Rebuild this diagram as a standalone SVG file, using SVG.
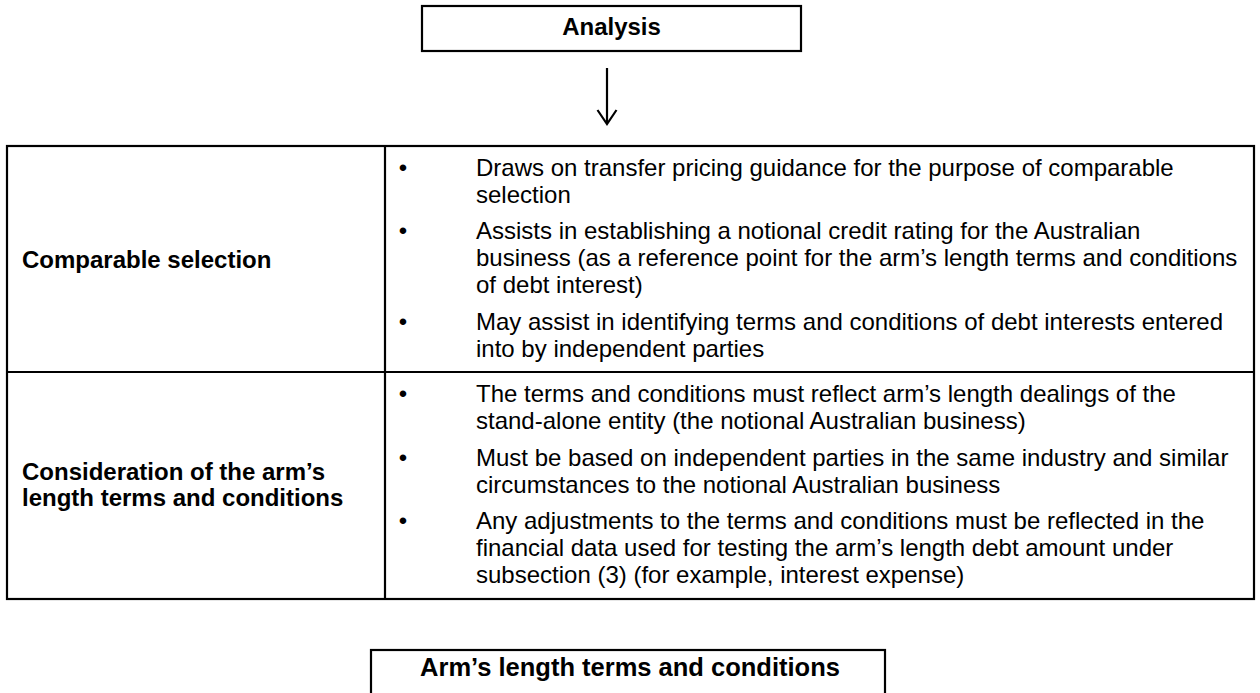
<svg xmlns="http://www.w3.org/2000/svg" width="1260" height="693" viewBox="0 0 1260 693">
<style>
  .box{fill:#fff;stroke:#000;stroke-width:2.2}
  .ln{stroke:#000;stroke-width:2.2;fill:none}
  .b{font-family:"Liberation Sans",Arial,sans-serif;font-weight:bold;font-size:24px;fill:#000}
  .t{font-family:"Liberation Sans",Arial,sans-serif;font-size:24px;fill:#000}
  .bul{font-family:"Liberation Sans",Arial,sans-serif;font-size:24px;fill:#000;text-anchor:middle}
</style>
<rect width="1260" height="693" fill="#fff"/>
<g id="analysis">
  <rect class="box" x="422" y="6" width="379" height="45"/>
  <text class="b" x="611.5" y="34.5" text-anchor="middle">Analysis</text>
</g>
<g id="connectors">
  <line class="ln" x1="607" y1="68" x2="607" y2="123"/>
  <polyline class="ln" points="597.5,110 607,124 616.5,110"/>
</g>
<g id="table">
  <rect class="box" x="7" y="146" width="1247" height="453"/>
  <line class="ln" x1="385" y1="146" x2="385" y2="599"/>
  <line class="ln" x1="7" y1="372" x2="1254" y2="372"/>
</g>
<g id="row1">
  <text class="b" x="22" y="268">Comparable selection</text>
  <text class="bul" x="403" y="175.5">•</text>
  <text class="t" x="476" y="175.5">Draws on transfer pricing guidance for the purpose of comparable</text>
  <text class="t" x="476" y="202.5">selection</text>
  <text class="bul" x="403" y="239">•</text>
  <text class="t" x="476" y="239">Assists in establishing a notional credit rating for the Australian</text>
  <text class="t" x="476" y="266">business (as a reference point for the arm’s length terms and conditions</text>
  <text class="t" x="476" y="293">of debt interest)</text>
  <text class="bul" x="403" y="330">•</text>
  <text class="t" x="476" y="330">May assist in identifying terms and conditions of debt interests entered</text>
  <text class="t" x="476" y="357">into by independent parties</text>
</g>
<g id="row2">
  <text class="b" x="22" y="480">Consideration of the arm’s</text>
  <text class="b" x="22" y="506">length terms and conditions</text>
  <text class="bul" x="403" y="402">•</text>
  <text class="t" x="476" y="402">The terms and conditions must reflect arm’s length dealings of the</text>
  <text class="t" x="476" y="429">stand-alone entity (the notional Australian business)</text>
  <text class="bul" x="403" y="465.5">•</text>
  <text class="t" x="476" y="465.5">Must be based on independent parties in the same industry and similar</text>
  <text class="t" x="476" y="492.5">circumstances to the notional Australian business</text>
  <text class="bul" x="403" y="529">•</text>
  <text class="t" x="476" y="529">Any adjustments to the terms and conditions must be reflected in the</text>
  <text class="t" x="476" y="556">financial data used for testing the arm’s length debt amount under</text>
  <text class="t" x="476" y="583">subsection (3) (for example, interest expense)</text>
</g>
<g id="armslength">
  <rect class="box" x="371" y="650" width="514" height="60"/>
  <text class="b" x="630" y="675.5" text-anchor="middle" style="font-size:25.5px">Arm’s length terms and conditions</text>
</g>
</svg>
